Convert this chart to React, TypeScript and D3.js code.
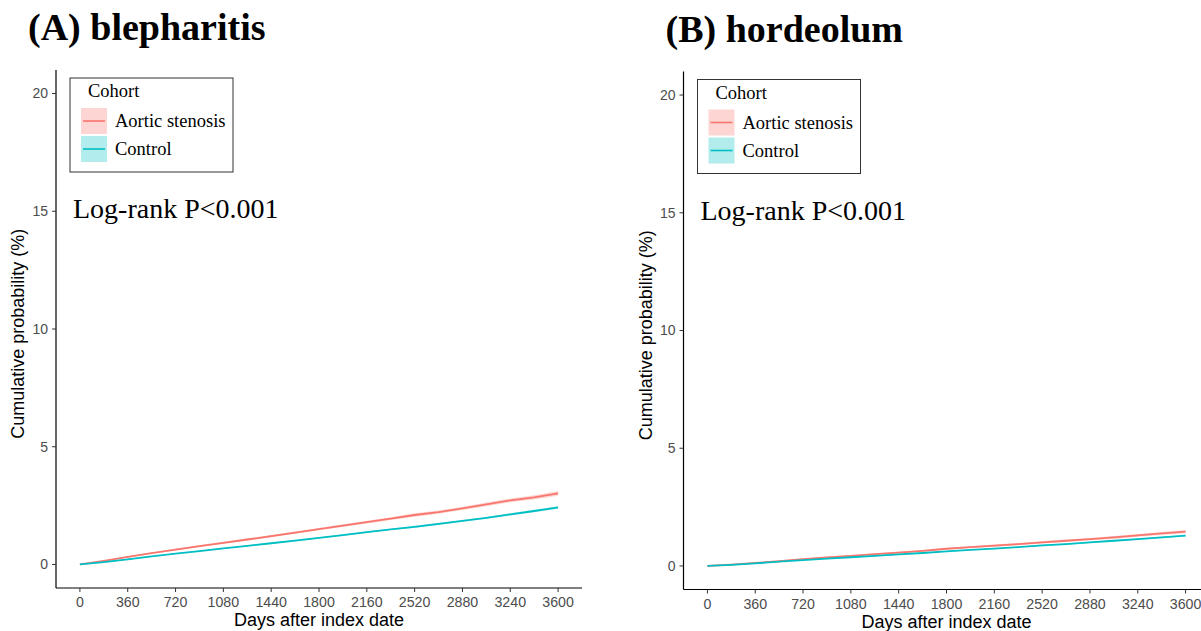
import React from "react";
import * as d3 from "d3";

const days = [0, 180, 360, 540, 720, 900, 1080, 1260, 1440, 1620, 1800, 1980, 2160, 2340, 2520, 2700, 2880, 3060, 3240, 3420, 3600];
const xTicks = [0, 360, 720, 1080, 1440, 1800, 2160, 2520, 2880, 3240, 3600];
const yTicks = [0, 5, 10, 15, 20];
const cohorts = ["Aortic stenosis", "Control"];
const colors = ["#F8766D", "#00BFC4"];

// Panel A: blepharitis (cumulative %)
const blephAS = [0, 0.15, 0.32, 0.48, 0.63, 0.78, 0.92, 1.06, 1.2, 1.35, 1.5, 1.65, 1.8, 1.95, 2.1, 2.22, 2.38, 2.55, 2.72, 2.85, 3.02];
const blephCtrl = [0, 0.1, 0.22, 0.34, 0.46, 0.57, 0.68, 0.79, 0.9, 1.01, 1.13, 1.25, 1.37, 1.49, 1.6, 1.72, 1.85, 1.98, 2.13, 2.27, 2.42];
const blephASci = [0, 0.02, 0.03, 0.03, 0.04, 0.04, 0.04, 0.05, 0.05, 0.05, 0.05, 0.06, 0.06, 0.06, 0.07, 0.07, 0.07, 0.08, 0.08, 0.09, 0.1];
const blephCtrlci = [0, 0.01, 0.01, 0.02, 0.02, 0.02, 0.02, 0.02, 0.03, 0.03, 0.03, 0.03, 0.03, 0.03, 0.04, 0.04, 0.04, 0.04, 0.05, 0.05, 0.05];

// Panel B: hordeolum (cumulative %)
const hordAS = [0, 0.06, 0.13, 0.2, 0.29, 0.36, 0.43, 0.5, 0.57, 0.64, 0.73, 0.8, 0.86, 0.93, 1.0, 1.07, 1.14, 1.21, 1.3, 1.38, 1.46];
const hordCtrl = [0, 0.05, 0.11, 0.18, 0.25, 0.31, 0.37, 0.43, 0.49, 0.55, 0.62, 0.68, 0.74, 0.8, 0.87, 0.93, 1.0, 1.07, 1.14, 1.21, 1.29];
const hordASci = [0, 0.01, 0.02, 0.02, 0.03, 0.03, 0.03, 0.03, 0.04, 0.04, 0.04, 0.04, 0.05, 0.05, 0.05, 0.05, 0.05, 0.06, 0.06, 0.06, 0.07];
const hordCtrlci = [0, 0.01, 0.01, 0.01, 0.01, 0.01, 0.02, 0.02, 0.02, 0.02, 0.02, 0.02, 0.02, 0.02, 0.03, 0.03, 0.03, 0.03, 0.03, 0.03, 0.03];

const SANS = "'Liberation Sans', Arial, sans-serif";
const SERIF = "'Liberation Serif', 'Times New Roman', serif";

type PanelProps = {
  dx: number;
  dy: number;
  titleX: number;
  title: string;
  series: number[][];
  cis: number[][];
};

function Panel({ dx, dy, titleX, title, series, cis }: PanelProps) {
  const x = d3.scaleLinear().domain([-180, 3780]).range([56, 582]);
  const y = d3.scaleLinear().domain([-1, 21]).range([588, 70]);
  const line = d3
    .line<number>()
    .x((_, i) => x(days[i]))
    .y((v) => y(v));
  const ribbon = (vals: number[], ci: number[]) =>
    d3
      .area<number>()
      .x((_, i) => x(days[i]))
      .y0((v, i) => y(v - ci[i]))
      .y1((v, i) => y(v + ci[i]))(vals) as string;

  const legX = 70;
  const legY = 78;
  return (
    <g transform={`translate(${dx},${dy})`}>
      <text x={titleX} y={40} fontFamily={SERIF} fontWeight="bold" fontSize={38} fill="#000">
        {title}
      </text>
      {series.map((s, k) => (
        <path key={"r" + k} d={ribbon(s, cis[k])} fill={colors[k]} fillOpacity={0.3} stroke="none" />
      ))}
      {series.map((s, k) => (
        <path key={"l" + k} d={line(s) as string} fill="none" stroke={colors[k]} strokeWidth={1.8} />
      ))}
      <line x1={56} x2={56} y1={70} y2={588} stroke="#000" strokeWidth={1.2} />
      <line x1={56} x2={582} y1={588} y2={588} stroke="#000" strokeWidth={1.2} />
      {yTicks.map((t) => (
        <g key={"y" + t}>
          <line x1={52} x2={56} y1={y(t)} y2={y(t)} stroke="#333" strokeWidth={1} />
          <text x={48} y={y(t)} dy="0.35em" textAnchor="end" fontFamily={SANS} fontSize={14} fill="#4D4D4D">
            {t}
          </text>
        </g>
      ))}
      {xTicks.map((t) => (
        <g key={"x" + t}>
          <line x1={x(t)} x2={x(t)} y1={588} y2={592} stroke="#333" strokeWidth={1} />
          <text x={x(t)} y={607} textAnchor="middle" fontFamily={SANS} fontSize={14.2} fill="#4D4D4D">
            {t}
          </text>
        </g>
      ))}
      <text x={x(1800)} y={626} textAnchor="middle" fontFamily={SANS} fontSize={18} fill="#000">
        Days after index date
      </text>
      <text
        transform={`translate(24,${y(9.8)}) rotate(-90)`}
        textAnchor="middle"
        fontFamily={SANS}
        fontSize={18}
        fill="#000"
      >
        Cumulative probability (%)
      </text>
      <rect x={legX} y={legY} width={163} height={94} fill="#fff" stroke="#333" strokeWidth={1} />
      <text x={legX + 18} y={legY + 19} fontFamily={SERIF} fontSize={18.5} fill="#000">
        Cohort
      </text>
      {cohorts.map((c, k) => (
        <g key={"lg" + k}>
          <rect x={legX + 11} y={legY + 30 + k * 28} width={26} height={26} fill={colors[k]} fillOpacity={0.3} />
          <line
            x1={legX + 13}
            x2={legX + 35}
            y1={legY + 43 + k * 28}
            y2={legY + 43 + k * 28}
            stroke={colors[k]}
            strokeWidth={1.6}
          />
          <text x={legX + 45} y={legY + 49 + k * 28} fontFamily={SERIF} fontSize={18.5} fill="#000">
            {c}
          </text>
        </g>
      ))}
      <text x={73} y={218} fontFamily={SERIF} fontSize={28} fill="#000">
        Log-rank P&lt;0.001
      </text>
    </g>
  );
}

export default function App() {
  return (
    <svg
      width={1201}
      height={631}
      style={{ position: "absolute", left: 0, top: 0, background: "#fff" }}
    >
      <rect width={1201} height={631} fill="#fff" />
      <Panel dx={0} dy={0} titleX={28} title="(A) blepharitis" series={[blephAS, blephCtrl]} cis={[blephASci, blephCtrlci]} />
      <Panel dx={627.5} dy={1.5} titleX={38} title="(B) hordeolum" series={[hordAS, hordCtrl]} cis={[hordASci, hordCtrlci]} />
    </svg>
  );
}
